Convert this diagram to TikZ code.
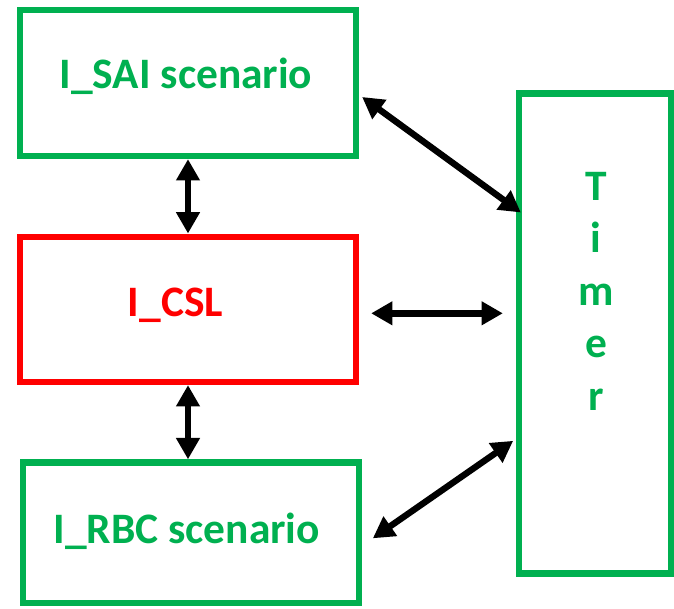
\documentclass[tikz,border=0pt]{standalone}
\usepackage{fontspec}
\setmainfont{Carlito}
\usetikzlibrary{arrows.meta}
\definecolor{boxgreen}{HTML}{00B050}
\definecolor{boxred}{HTML}{FF0000}
\tikzset{
    box/.style={draw, line width=4.7pt, minimum width=252pt, inner sep=0pt},
    greenbox/.style={box, draw=boxgreen},
    redbox/.style={box, draw=boxred},
    boxtext/.style={font=\fontsize{32.6}{39}\selectfont\bfseries, inner sep=0pt, anchor=base},
    biarrow/.style={line width=4.8pt, {Triangle[length=16pt,width=17pt]}-{Triangle[length=16pt,width=17pt]}}
}
\begin{document}
\begin{tikzpicture}[x=0.75pt, y=-0.75pt]
    \useasboundingbox (0,0) rectangle (674,608);

    % blocks
    \node[greenbox, minimum height=109.5pt] (sai) at (188,83) {};
    \node[redbox, minimum height=109pt] (csl) at (188,309.3) {};
    \node[greenbox, minimum height=105.4pt] (rbc) at (191,532.7) {};
    \node[greenbox, minimum width=114pt, minimum height=360pt] (timer) at (595,333.6) {};

    % labels
    \node[boxtext, text=boxgreen] (saitext) at (186,88) {I\_SAI scenario};
    \node[boxtext, text=boxred] (csltext) at (175.5,316) {I\_CSL};
    \node[boxtext, text=boxgreen] (rbctext) at (186.7,543) {I\_RBC scenario};
    \foreach \ch [count=\i] in {T,i,m,e,r}
        \node[boxtext, text=boxgreen] (timer\i) at (596,{200+52.5*(\i-1)}) {\ch};

    % connections
    \draw[biarrow] (sai.south) -- (csl.north);
    \draw[biarrow] (csl.south) -- (csl.south |- rbc.north);
    \draw[biarrow] ([shift={(3,14)}]sai.east) -- ([shift={(5,122)}]timer.north west);
    \draw[biarrow] ([shift={(12,4)}]csl.east) -- ([shift={(-13,4)}]csl.east -| timer.west);
    \draw[biarrow] ([shift={(10.7,5.6)}]rbc.east) -- ([shift={(-2.7,-135.9)}]timer.south west);
\end{tikzpicture}
\end{document}
